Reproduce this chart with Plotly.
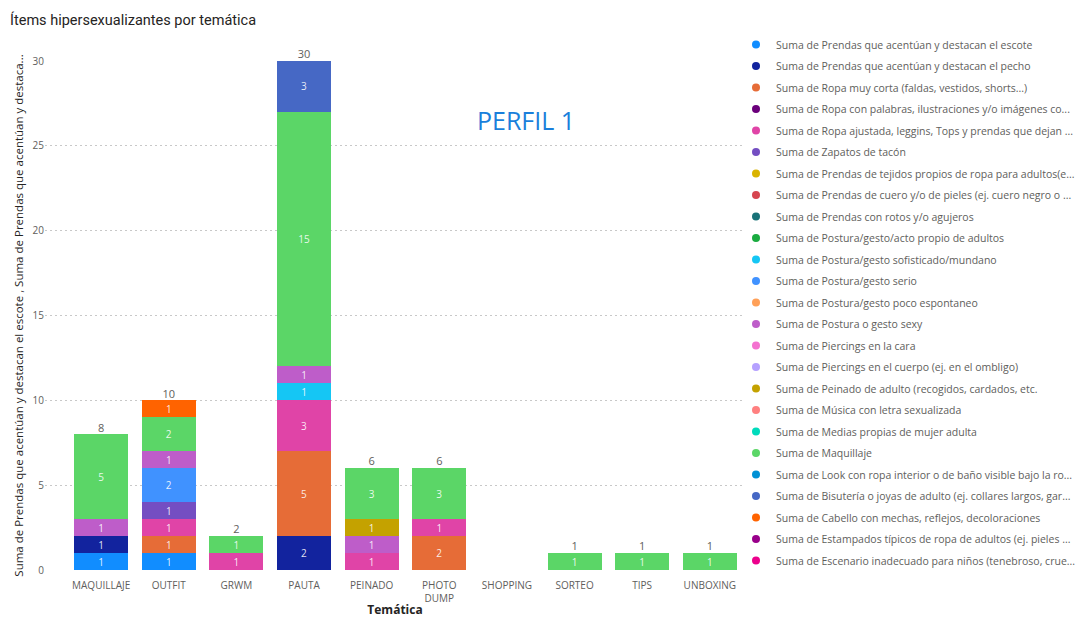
import plotly.graph_objects as go

# Categories on the x axis
categories = ["MAQUILLAJE", "OUTFIT", "GRWM", "PAUTA", "PEINADO",
              "PHOTO<br>DUMP", "SHOPPING", "SORTEO", "TIPS", "UNBOXING"]

# Series names (as shown in the legend) and colours, in stacking order
series_names = [
    "Suma de Prendas que acentúan y destacan el escote",
    "Suma de Prendas que acentúan y destacan el pecho",
    "Suma de Ropa muy corta (faldas, vestidos, shorts...)",
    "Suma de Ropa con palabras, ilustraciones y/o imágenes co...",
    "Suma de Ropa ajustada, leggins, Tops y prendas que dejan ...",
    "Suma de Zapatos de tacón",
    "Suma de Prendas de tejidos propios de ropa para adultos(e...",
    "Suma de Prendas de cuero y/o de pieles (ej. cuero negro o ...",
    "Suma de Prendas con rotos y/o agujeros",
    "Suma de Postura/gesto/acto propio de adultos",
    "Suma de Postura/gesto sofisticado/mundano",
    "Suma de Postura/gesto serio",
    "Suma de Postura/gesto poco espontaneo",
    "Suma de Postura o gesto sexy",
    "Suma de Piercings en la cara",
    "Suma de Piercings en el cuerpo (ej. en el ombligo)",
    "Suma de Peinado de adulto (recogidos, cardados, etc.",
    "Suma de Música con letra sexualizada",
    "Suma de Medias propias de mujer adulta",
    "Suma de Maquillaje",
    "Suma de Look con ropa interior o de baño visible bajo la ro...",
    "Suma de Bisutería o joyas de adulto (ej. collares largos, gar...",
    "Suma de Cabello con mechas, reflejos, decoloraciones",
    "Suma de Estampados típicos de ropa de adultos (ej. pieles ...",
    "Suma de Escenario inadecuado para niños (tenebroso, crue...",
]

series_colors = [
    "#118DFF", "#12239E", "#E66C37", "#6B007B", "#E044A7", "#744EC2",
    "#D9B300", "#D64550", "#197278", "#1AAB40", "#15C6F4", "#4092FF",
    "#FFA058", "#BE5DC9", "#F472D0", "#B5A1FF", "#C4A200", "#FF8080",
    "#00DBBC", "#5BD667", "#0091D5", "#4668C5", "#FF6300", "#99008A",
    "#EC008C",
]

# Values per series, one per category
escote        = [1, 1, 0, 0, 0, 0, 0, 0, 0, 0]
pecho         = [1, 0, 0, 2, 0, 0, 0, 0, 0, 0]
muy_corta     = [0, 1, 0, 5, 0, 2, 0, 0, 0, 0]
palabras      = [0, 0, 0, 0, 0, 0, 0, 0, 0, 0]
ajustada      = [0, 1, 1, 3, 1, 1, 0, 0, 0, 0]
tacon         = [0, 1, 0, 0, 0, 0, 0, 0, 0, 0]
tejidos       = [0, 0, 0, 0, 0, 0, 0, 0, 0, 0]
cuero         = [0, 0, 0, 0, 0, 0, 0, 0, 0, 0]
rotos         = [0, 0, 0, 0, 0, 0, 0, 0, 0, 0]
acto_adulto   = [0, 0, 0, 0, 0, 0, 0, 0, 0, 0]
sofisticado   = [0, 0, 0, 1, 0, 0, 0, 0, 0, 0]
serio         = [0, 2, 0, 0, 0, 0, 0, 0, 0, 0]
poco_espont   = [0, 0, 0, 0, 0, 0, 0, 0, 0, 0]
sexy          = [1, 1, 0, 1, 1, 0, 0, 0, 0, 0]
pierc_cara    = [0, 0, 0, 0, 0, 0, 0, 0, 0, 0]
pierc_cuerpo  = [0, 0, 0, 0, 0, 0, 0, 0, 0, 0]
peinado       = [0, 0, 0, 0, 1, 0, 0, 0, 0, 0]
musica        = [0, 0, 0, 0, 0, 0, 0, 0, 0, 0]
medias        = [0, 0, 0, 0, 0, 0, 0, 0, 0, 0]
maquillaje    = [5, 2, 1, 15, 3, 3, 0, 1, 1, 1]
look          = [0, 0, 0, 0, 0, 0, 0, 0, 0, 0]
bisuteria     = [0, 0, 0, 3, 0, 0, 0, 0, 0, 0]
cabello       = [0, 1, 0, 0, 0, 0, 0, 0, 0, 0]
estampados    = [0, 0, 0, 0, 0, 0, 0, 0, 0, 0]
escenario     = [0, 0, 0, 0, 0, 0, 0, 0, 0, 0]

series_values = [escote, pecho, muy_corta, palabras, ajustada, tacon, tejidos,
                 cuero, rotos, acto_adulto, sofisticado, serio, poco_espont,
                 sexy, pierc_cara, pierc_cuerpo, peinado, musica, medias,
                 maquillaje, look, bisuteria, cabello, estampados, escenario]

y_ticks = [0, 5, 10, 15, 20, 25, 30]

FONT = "Open Sans"
GREY = "#605E5C"
DARK = "#252423"

W, H = 1081, 618
# plot frame (pixels); the y axis occupies only part of the tall frame so
# the long legend has room without scrolling
M_L, M_R, M_T, M_B = 45, 336, 10, 10
Y_BOTTOM_PX, Y_TOP_PX = 570, 61
frame_h = H - M_T - M_B
frame_w = W - M_L - M_R
y_domain = [(H - M_B - Y_BOTTOM_PX) / frame_h, (H - M_B - Y_TOP_PX) / frame_h]

fig = go.Figure()

for i, (name, color, vals) in enumerate(zip(series_names, series_colors, series_values)):
    grp = f"s{i}"
    fig.add_trace(go.Bar(
        x=categories, y=vals, name=name, legendgroup=grp, showlegend=False,
        marker=dict(color=color, line=dict(width=0)),
        text=[str(v) if v else "" for v in vals],
        textposition="inside", insidetextanchor="middle", textangle=0,
        insidetextfont=dict(family=FONT, size=10, color="rgba(255,255,255,0.88)"),
        hovertemplate="%{x}: %{y}<extra>" + name + "</extra>",
    ))
    # circular legend marker for this series
    fig.add_trace(go.Scatter(
        x=[None], y=[None], mode="markers", name=name, legendgroup=grp,
        marker=dict(color=color, size=8, symbol="circle"),
        hoverinfo="skip",
    ))

# stack totals above each column
totals = [sum(col) for col in zip(*series_values)]
fig.add_trace(go.Scatter(
    x=[c for c, t in zip(categories, totals) if t],
    y=[t for t in totals if t],
    text=[str(t) for t in totals if t],
    mode="text", textposition="top center",
    textfont=dict(family=FONT, size=11, color=GREY),
    showlegend=False, hoverinfo="skip", cliponaxis=False,
))

fig.update_layout(
    width=W, height=H,
    barmode="stack", bargap=0.2,
    uniformtext=dict(minsize=10, mode="show"),
    paper_bgcolor="white", plot_bgcolor="white",
    margin=dict(l=M_L, r=M_R, t=M_T, b=M_B, autoexpand=False),
    font=dict(family=FONT, color=GREY),
    title=dict(text="Ítems hipersexualizantes por temática",
               x=10 / W, xanchor="left", y=1 - 20 / H, yanchor="middle",
               font=dict(family="Roboto", size=14.5, color=DARK)),
    legend=dict(
        xref="container", yref="paper",
        x=736 / W, xanchor="left", y=(H - M_B - 30) / frame_h, yanchor="top",
        font=dict(family=FONT, size=10.5, color=GREY),
        tracegroupgap=2.5, itemclick=False, itemdoubleclick=False,
        bgcolor="rgba(0,0,0,0)",
    ),
    xaxis=dict(
        title=dict(text="<b>Temática</b>", font=dict(family=FONT, size=12, color=DARK),
                   standoff=6),
        range=[-0.83, 9.52], automargin=True,
        tickfont=dict(family=FONT, size=10, color=GREY),
        ticklabelstandoff=8,
        showgrid=False, showline=False, ticks="", anchor="y",
    ),
    yaxis=dict(
        domain=y_domain, automargin=False,
        title=dict(text="Suma de Prendas que acentúan y destacan el escote , "
                        "Suma de Prendas que acentúan y destaca...",
                   font=dict(family=FONT, size=11.5, color=DARK), standoff=6),
        range=[0, 30], tickvals=y_ticks,
        tickfont=dict(family=FONT, size=10, color=GREY),
        showgrid=True, gridcolor="#C8C8C8", griddash="2px,3px", gridwidth=1,
        zeroline=False, showline=False, ticks="",
    ),
    annotations=[dict(
        text="PERFIL 1", xref="paper", yref="paper",
        x=(526 - M_L) / frame_w, y=(H - M_B - 120) / frame_h,
        xanchor="center", yanchor="middle", showarrow=False,
        font=dict(family=FONT, size=25, color="#1A7FDB"),
    )],
)

fig.write_html("out.html")
